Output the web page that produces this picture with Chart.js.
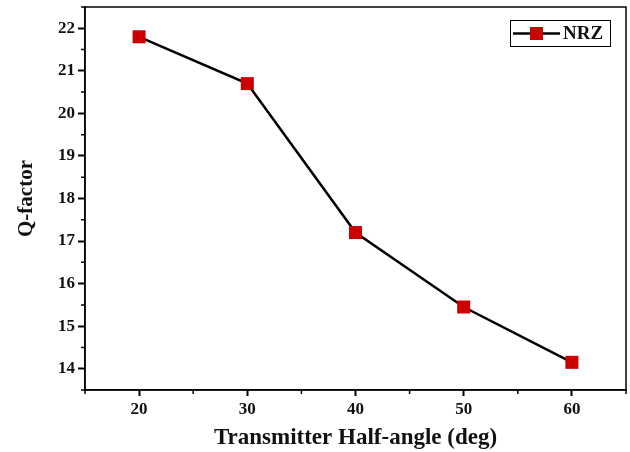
<!DOCTYPE html>
<html><head><meta charset="utf-8">
<script src="https://cdn.jsdelivr.net/npm/chart.js@4/dist/chart.umd.min.js"></script>
<style>html,body{margin:0;padding:0;background:#fff}#wrap{width:630px;height:452px}</style>
</head><body><div id="wrap"><canvas id="c" width="630" height="452"></canvas></div>
<script>
const halfAngles = [20, 30, 40, 50, 60];
const qFactor = [21.8, 20.7, 17.2, 15.45, 14.15];
const seriesLabel = 'NRZ';
const xTitle = 'Transmitter Half-angle (deg)';
const yTitle = 'Q-factor';

const FONT = '"Liberation Serif", "Times New Roman", serif';
const noPad = () => ({left: 0, top: 0, right: 0, bottom: 0});

const framePlugin = {
  id: 'frame',
  afterDraw(chart) {
    const ctx = chart.ctx, a = chart.chartArea;
    const xs = chart.scales.x, ys = chart.scales.y;
    ctx.save();
    ctx.strokeStyle = '#000';
    ctx.lineWidth = 1.5;
    ctx.strokeRect(a.left, a.top, a.right - a.left, a.bottom - a.top);
    // minor ticks
    ctx.lineWidth = 1.5;
    ctx.beginPath();
    for (let v = 15; v <= 65; v += 10) {
      const p = xs.getPixelForValue(v);
      ctx.moveTo(p, a.bottom); ctx.lineTo(p, a.bottom + 4);
    }
    for (let v = 13.5; v <= 22.5; v += 1) {
      const p = ys.getPixelForValue(v);
      ctx.moveTo(a.left, p); ctx.lineTo(a.left - 4, p);
    }
    ctx.stroke();
    // legend
    const bx = 510, by = 20, bw = 100, bh = 26;
    ctx.fillStyle = '#fff';
    ctx.fillRect(bx, by, bw, bh);
    ctx.lineWidth = 1;
    ctx.strokeRect(bx + 0.5, by + 0.5, bw, bh);
    const cy = by + bh / 2 + 0.5;
    ctx.lineWidth = 2.5;
    ctx.beginPath(); ctx.moveTo(bx + 3, cy); ctx.lineTo(bx + 50, cy); ctx.stroke();
    ctx.fillStyle = '#cc0000';
    ctx.fillRect(bx + 20, cy - 6.5, 13, 13);
    ctx.fillStyle = '#111';
    ctx.font = 'bold 19px ' + FONT;
    ctx.textBaseline = 'middle';
    ctx.textAlign = 'left';
    ctx.fillText(chart.data.datasets[0].label, bx + 53, cy + 1);
    ctx.restore();
  }
};

new Chart(document.getElementById('c'), {
  type: 'line',
  data: {
    datasets: [{
      label: seriesLabel,
      data: halfAngles.map((x, i) => ({x: x, y: qFactor[i]})),
      borderColor: '#000',
      borderWidth: 2.5,
      backgroundColor: '#cc0000',
      pointStyle: 'rect',
      pointRadius: 9.2,
      pointHoverRadius: 9.2,
      pointBorderWidth: 0,
      pointBackgroundColor: '#cc0000',
      tension: 0
    }]
  },
  options: {
    responsive: false,
    animation: false,
    layout: { autoPadding: false, padding: { left: 0, top: 7, right: 4, bottom: 0 } },
    plugins: { legend: { display: false }, tooltip: { enabled: false } },
    scales: {
      x: {
        type: 'linear', min: 15, max: 65,
        afterBuildTicks(s) { s.ticks = halfAngles.map(v => ({value: v})); },
        grid: { drawOnChartArea: false, drawTicks: true, tickLength: 6, tickWidth: 2, tickColor: '#000' },
        border: { display: true, color: '#000', width: 1.5 },
        ticks: { color: '#111', font: { family: FONT, weight: 'bold', size: 17 }, padding: 3, maxRotation: 0 },
        title: { display: true, text: xTitle, color: '#111', font: { family: FONT, weight: 'bold', size: 23 }, padding: { top: 0, bottom: 0 } },
        afterFit(s) { s.height = 62; s.paddingLeft = 0; s.paddingRight = 0; s.getPadding = noPad; }
      },
      y: {
        type: 'linear', min: 13.5, max: 22.5,
        afterBuildTicks(s) { const t = []; for (let v = 14; v <= 22; v++) t.push({value: v}); s.ticks = t; },
        grid: { drawOnChartArea: false, drawTicks: true, tickLength: 7, tickWidth: 2, tickColor: '#000' },
        border: { display: true, color: '#000', width: 1.5 },
        ticks: { color: '#111', font: { family: FONT, weight: 'bold', size: 17 }, padding: 3 },
        title: { display: true, text: yTitle, color: '#111', font: { family: FONT, weight: 'bold', size: 21 }, padding: { top: 14, bottom: 0 } },
        afterFit(s) { s.width = 85; s.paddingTop = 0; s.paddingBottom = 0; s.getPadding = noPad; }
      }
    }
  },
  plugins: [framePlugin]
});
</script></body></html>
